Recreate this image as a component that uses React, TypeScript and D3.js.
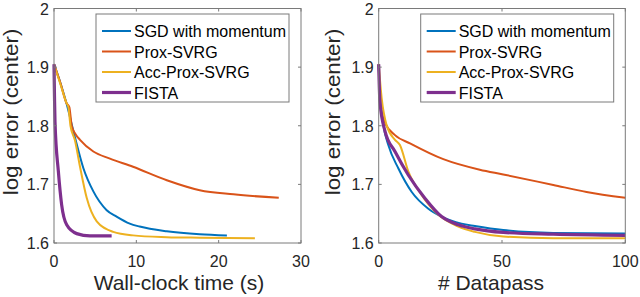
import React from "react";
import * as d3 from "d3";

type Pt = [number, number];

// ---- left panel: wall-clock time ----
const timeTicks = [0, 10, 20, 30];
const timeSGD: Pt[] = [[0, 1.905], [0.8, 1.872], [1.54, 1.837], [2.55, 1.78], [3.56, 1.728], [4.78, 1.688], [6.4, 1.656], [7.6, 1.645], [9.2, 1.633], [10.4, 1.628], [13.7, 1.62], [17.7, 1.615], [21.0, 1.613]];
const timeProx: Pt[] = [[0, 1.905], [0.8, 1.872], [1.54, 1.838], [1.86, 1.832], [2.15, 1.8], [2.6, 1.786], [3.16, 1.776], [4.78, 1.756], [6.8, 1.744], [9.6, 1.73], [13.7, 1.707], [17.7, 1.69], [21.8, 1.683], [27.3, 1.677]];
const timeAcc: Pt[] = [[0, 1.905], [0.8, 1.87], [1.54, 1.838], [1.74, 1.832], [2.0, 1.8], [2.55, 1.775], [3.16, 1.73], [3.97, 1.677], [5.19, 1.637], [7.2, 1.619], [9.6, 1.613], [13.7, 1.61], [17.7, 1.609], [24.4, 1.608]];
const timeFista: Pt[] = [[0, 1.905], [0.06, 1.85], [0.12, 1.807], [0.53, 1.722], [0.93, 1.665], [1.54, 1.631], [2.76, 1.616], [4.37, 1.612], [7.0, 1.612]];

// ---- right panel: datapasses ----
const passTicks = [0, 50, 100];
const passSGD: Pt[] = [[0, 1.905], [0.5, 1.852], [1.9, 1.801], [3.9, 1.767], [8, 1.727], [13.4, 1.687], [20, 1.659], [25.5, 1.645], [33.6, 1.633], [39, 1.629], [50.5, 1.622], [70.8, 1.617], [100, 1.616]];
const passProx: Pt[] = [[0, 1.905], [0.5, 1.84], [2.6, 1.805], [6.6, 1.784], [12.7, 1.77], [26.2, 1.743], [41, 1.725], [50.5, 1.717], [70.8, 1.699], [84.3, 1.687], [100, 1.677]];
const passAcc: Pt[] = [[0, 1.905], [1.2, 1.847], [3.2, 1.801], [6.6, 1.776], [8.6, 1.767], [12, 1.722], [17.4, 1.682], [24.2, 1.648], [32.3, 1.628], [39, 1.619], [50.5, 1.611], [70.8, 1.608], [100, 1.608]];
const passFista: Pt[] = [[0, 1.905], [0.5, 1.841], [2.6, 1.79], [6.6, 1.756], [12, 1.716], [18.8, 1.676], [25.5, 1.645], [32.3, 1.631], [39, 1.624], [50.5, 1.618], [70.8, 1.615], [100, 1.613]];

const yTicks = [1.6, 1.7, 1.8, 1.9, 2];
const labels = ["SGD with momentum", "Prox-SVRG", "Acc-Prox-SVRG", "FISTA"];
const colors = ["#0072BD", "#D95319", "#EDB120", "#7E2F8E"];
const widths = [2, 2, 2, 3.2];

const FONT = '"Liberation Sans", Arial, Helvetica, sans-serif';

const panels = [
  { x0: 54, x1: 301, max: 30, ticks: timeTicks, title: "Wall-clock time (s)", titleX: 179, yTitleX: 18, series: [timeSGD, timeProx, timeAcc, timeFista] },
  { x0: 378.7, x1: 625.3, max: 100, ticks: passTicks, title: "# Datapass", titleX: 491, yTitleX: 340, series: [passSGD, passProx, passAcc, passFista] },
];

export default function App() {
  const ref = React.useRef<SVGSVGElement | null>(null);

  React.useEffect(() => {
    if (!ref.current) return;
    const svg = d3.select(ref.current);
    svg.selectAll("*").remove();
    const top = 8.5, bottom = 243;
    const y = d3.scaleLinear().domain([1.6, 2]).range([bottom, top]);
    const axisColor = "#7a7a7a";
    const tl = 3;

    panels.forEach(p => {
      const x = d3.scaleLinear().domain([0, p.max]).range([p.x0, p.x1]);
      const g = svg.append("g");

      // curves
      const line = d3.line<Pt>().x(d => x(d[0])).y(d => y(d[1])).curve(d3.curveMonotoneX);
      p.series.forEach((s, i) => {
        g.append("path")
          .datum(s)
          .attr("fill", "none")
          .attr("stroke", colors[i])
          .attr("stroke-width", widths[i])
          .attr("stroke-linejoin", "round")
          .attr("d", line);
      });

      // box + ticks
      g.append("rect")
        .attr("x", p.x0).attr("y", top)
        .attr("width", p.x1 - p.x0).attr("height", bottom - top)
        .attr("fill", "none").attr("stroke", axisColor).attr("stroke-width", 1);
      p.ticks.forEach(t => {
        const xx = x(t);
        g.append("line").attr("x1", xx).attr("x2", xx).attr("y1", bottom).attr("y2", bottom - tl).attr("stroke", axisColor);
        g.append("line").attr("x1", xx).attr("x2", xx).attr("y1", top).attr("y2", top + tl).attr("stroke", axisColor);
        g.append("text").attr("x", xx).attr("y", 267).attr("text-anchor", "middle")
          .attr("font-family", FONT).attr("font-size", 16).attr("fill", "#262626").text(String(t));
      });
      yTicks.forEach(t => {
        const yy = y(t);
        g.append("line").attr("x1", p.x0).attr("x2", p.x0 + tl).attr("y1", yy).attr("y2", yy).attr("stroke", axisColor);
        g.append("line").attr("x1", p.x1).attr("x2", p.x1 - tl).attr("y1", yy).attr("y2", yy).attr("stroke", axisColor);
        g.append("text").attr("x", p.x0 - 5).attr("y", yy + 6).attr("text-anchor", "end")
          .attr("font-family", FONT).attr("font-size", 16).attr("fill", "#262626").text(t === 2 ? "2" : t.toFixed(1));
      });

      // axis titles
      g.append("text").attr("x", p.titleX).attr("y", 290).attr("text-anchor", "middle")
        .attr("font-family", FONT).attr("font-size", 21).attr("fill", "#262626").text(p.title);
      g.append("text").attr("transform", `translate(${p.yTitleX},112) rotate(-90) scale(1.12,1)`).attr("text-anchor", "middle")
        .attr("font-family", FONT).attr("font-size", 20).attr("fill", "#262626").text("log error (center)");

      // legend
      const lx = p.x0 + 42, ly = 14;
      g.append("rect").attr("x", lx).attr("y", ly).attr("width", 193).attr("height", 88)
        .attr("fill", "white").attr("stroke", axisColor).attr("stroke-width", 1);
      labels.forEach((lab, i) => {
        const ry = 31 + i * 20.5;
        g.append("line").attr("x1", lx + 6).attr("x2", lx + 35).attr("y1", ry).attr("y2", ry)
          .attr("stroke", colors[i]).attr("stroke-width", widths[i]);
        g.append("text").attr("x", lx + 38).attr("y", ry + 6)
          .attr("font-family", FONT).attr("font-size", 16).attr("fill", "#000").text(lab);
      });
    });
  }, []);

  return <svg ref={ref} width={640} height={297} style={{ position: "absolute", left: 0, top: 0, background: "white" }}></svg>;
}
